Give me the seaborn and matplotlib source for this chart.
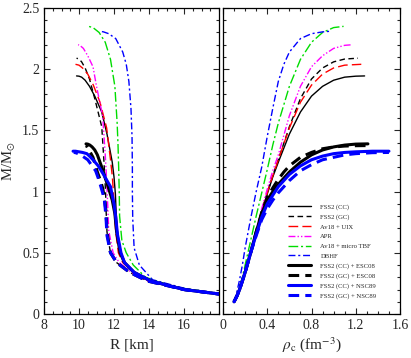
import numpy as np
import pandas as pd
import matplotlib
matplotlib.use("Agg")
import matplotlib.pyplot as plt
from matplotlib.ticker import MultipleLocator
import seaborn as sns

sns.set_theme(style="ticks")
plt.rcParams['font.family'] = ['Liberation Serif', 'DejaVu Serif']
plt.rcParams['mathtext.fontset'] = 'stix'

labels = ["FSS2 (CC)", "FSS2 (GC)", "Av18 + UIX", "APR", "Av18 + micro TBF", "DBHF",
          "FSS2 (CC) + ESC08", "FSS2 (GC) + ESC08", "FSS2 (CC) + NSC89", "FSS2 (GC) + NSC89"]

# central density (fm^-3), mass (M_sun), radius (km) for each EOS
rho_fss2_cc = [0.10, 0.125, 0.15, 0.175, 0.20, 0.225, 0.25, 0.30, 0.35, 0.40, 0.45, 0.50, 0.60, 0.70, 0.80, 0.90, 1.00, 1.10, 1.20, 1.28]
m_fss2_cc   = [0.10, 0.145, 0.20, 0.27, 0.34, 0.42, 0.50, 0.67, 0.84, 0.98, 1.12, 1.24, 1.47, 1.65, 1.78, 1.86, 1.91, 1.935, 1.943, 1.945]
r_fss2_cc   = [26.0, 19.0, 16.0, 14.1, 13.15, 12.6, 12.35, 12.2, 12.12, 12.08, 12.0, 11.9, 11.6, 11.3, 10.9, 10.6, 10.35, 10.15, 10.0, 9.86]

rho_fss2_gc = [0.10, 0.125, 0.15, 0.175, 0.20, 0.225, 0.25, 0.30, 0.35, 0.40, 0.45, 0.50, 0.60, 0.70, 0.80, 0.90, 1.00, 1.10, 1.22]
m_fss2_gc   = [0.10, 0.145, 0.20, 0.27, 0.34, 0.42, 0.50, 0.67, 0.84, 0.99, 1.13, 1.26, 1.53, 1.76, 1.92, 2.01, 2.06, 2.083, 2.09]
r_fss2_gc   = [26.0, 19.0, 16.0, 13.9, 12.9, 12.15, 11.8, 11.6, 11.55, 11.52, 11.47, 11.42, 11.3, 10.9, 10.6, 10.35, 10.15, 10.0, 9.86]

rho_uix = [0.10, 0.125, 0.15, 0.175, 0.20, 0.225, 0.25, 0.30, 0.35, 0.40, 0.45, 0.50, 0.60, 0.70, 0.80, 0.90, 1.00, 1.10, 1.25]
m_uix   = [0.10, 0.145, 0.20, 0.27, 0.34, 0.42, 0.50, 0.67, 0.84, 0.99, 1.13, 1.26, 1.52, 1.73, 1.87, 1.96, 2.01, 2.033, 2.04]
r_uix   = [26.0, 19.0, 16.0, 14.0, 13.1, 12.5, 12.25, 12.1, 12.02, 11.97, 11.9, 11.8, 11.58, 11.2, 10.82, 10.5, 10.2, 10.0, 9.8]

rho_apr = [0.10, 0.125, 0.15, 0.175, 0.20, 0.225, 0.25, 0.30, 0.35, 0.40, 0.45, 0.50, 0.60, 0.70, 0.80, 0.90, 1.00, 1.10, 1.17]
m_apr   = [0.10, 0.145, 0.20, 0.27, 0.34, 0.42, 0.50, 0.68, 0.86, 1.02, 1.17, 1.30, 1.62, 1.86, 2.02, 2.11, 2.17, 2.195, 2.20]
r_apr   = [26.0, 19.0, 16.0, 13.95, 13.0, 12.3, 11.95, 11.7, 11.65, 11.6, 11.55, 11.5, 11.35, 11.0, 10.8, 10.5, 10.25, 10.05, 9.95]

rho_tbf = [0.10, 0.125, 0.15, 0.175, 0.20, 0.225, 0.25, 0.30, 0.35, 0.40, 0.45, 0.50, 0.60, 0.70, 0.80, 0.90, 1.00, 1.09]
m_tbf   = [0.10, 0.15, 0.22, 0.30, 0.40, 0.50, 0.60, 0.80, 0.99, 1.18, 1.38, 1.56, 1.86, 2.08, 2.22, 2.30, 2.34, 2.35]
r_tbf   = [26.0, 18.8, 15.5, 13.8, 13.1, 12.7, 12.45, 12.32, 12.3, 12.27, 12.23, 12.18, 12.05, 11.8, 11.5, 11.15, 10.8, 10.55]

rho_dbhf = [0.10, 0.125, 0.15, 0.175, 0.20, 0.25, 0.30, 0.35, 0.40, 0.45, 0.50, 0.55, 0.60, 0.70, 0.80, 0.90, 0.97]
m_dbhf   = [0.10, 0.18, 0.28, 0.40, 0.54, 0.78, 1.00, 1.20, 1.45, 1.68, 1.90, 2.04, 2.14, 2.25, 2.29, 2.305, 2.31]
r_dbhf   = [26.0, 16.8, 14.2, 13.45, 13.15, 13.07, 13.05, 13.05, 13.03, 12.97, 12.85, 12.7, 12.5, 12.1, 11.7, 11.4, 11.2]

rho_cc_esc = [0.10, 0.125, 0.15, 0.175, 0.20, 0.225, 0.25, 0.30, 0.35, 0.40, 0.45, 0.50, 0.55, 0.60, 0.70, 0.80, 0.90, 1.00, 1.10, 1.20, 1.31]
m_cc_esc   = [0.10, 0.145, 0.20, 0.27, 0.34, 0.42, 0.50, 0.67, 0.82, 0.93, 1.00, 1.06, 1.11, 1.16, 1.24, 1.30, 1.34, 1.365, 1.38, 1.388, 1.39]
r_cc_esc   = [26.0, 19.0, 16.0, 14.1, 13.15, 12.6, 12.35, 12.15, 12.05, 11.9, 11.75, 11.62, 11.5, 11.4, 11.2, 11.05, 10.9, 10.75, 10.62, 10.5, 10.4]

rho_gc_esc = [0.10, 0.125, 0.15, 0.175, 0.20, 0.225, 0.25, 0.30, 0.35, 0.40, 0.45, 0.50, 0.55, 0.60, 0.70, 0.80, 0.90, 1.00, 1.10, 1.20, 1.30]
m_gc_esc   = [0.10, 0.145, 0.20, 0.27, 0.34, 0.42, 0.50, 0.67, 0.83, 0.95, 1.03, 1.10, 1.16, 1.21, 1.28, 1.32, 1.35, 1.365, 1.372, 1.375, 1.376]
r_gc_esc   = [26.0, 19.0, 16.0, 13.9, 12.9, 12.15, 11.8, 11.6, 11.55, 11.45, 11.35, 11.2, 11.05, 10.95, 10.8, 10.65, 10.55, 10.48, 10.42, 10.4, 10.38]

rho_cc_nsc = [0.10, 0.125, 0.15, 0.175, 0.20, 0.225, 0.25, 0.30, 0.35, 0.40, 0.45, 0.50, 0.60, 0.70, 0.80, 0.90, 1.00, 1.10, 1.20, 1.35, 1.50]
m_cc_nsc   = [0.10, 0.145, 0.20, 0.27, 0.34, 0.42, 0.50, 0.65, 0.79, 0.90, 0.97, 1.04, 1.14, 1.21, 1.26, 1.29, 1.31, 1.32, 1.325, 1.33, 1.33]
r_cc_nsc   = [26.0, 19.0, 16.0, 14.1, 13.15, 12.6, 12.4, 12.2, 12.1, 12.0, 11.9, 11.8, 11.4, 11.1, 10.8, 10.6, 10.45, 10.2, 10.0, 9.8, 9.66]

rho_gc_nsc = [0.10, 0.125, 0.15, 0.175, 0.20, 0.225, 0.25, 0.30, 0.35, 0.40, 0.45, 0.50, 0.60, 0.70, 0.80, 0.90, 1.00, 1.10, 1.20, 1.35, 1.50]
m_gc_nsc   = [0.10, 0.145, 0.20, 0.27, 0.34, 0.42, 0.50, 0.64, 0.77, 0.86, 0.93, 0.99, 1.09, 1.17, 1.22, 1.26, 1.28, 1.30, 1.31, 1.318, 1.32]
r_gc_nsc   = [26.0, 19.0, 16.0, 13.9, 12.9, 12.15, 11.8, 11.6, 11.55, 11.5, 11.45, 11.35, 11.15, 10.95, 10.7, 10.5, 10.3, 10.1, 9.95, 9.8, 9.7]

series = [
    (rho_fss2_cc, m_fss2_cc, r_fss2_cc),
    (rho_fss2_gc, m_fss2_gc, r_fss2_gc),
    (rho_uix, m_uix, r_uix),
    (rho_apr, m_apr, r_apr),
    (rho_tbf, m_tbf, r_tbf),
    (rho_dbhf, m_dbhf, r_dbhf),
    (rho_cc_esc, m_cc_esc, r_cc_esc),
    (rho_gc_esc, m_gc_esc, r_gc_esc),
    (rho_cc_nsc, m_cc_nsc, r_cc_nsc),
    (rho_gc_nsc, m_gc_nsc, r_gc_nsc),
]

styles = [
    dict(color="black", lw=1.0, ls="-"),
    dict(color="black", lw=1.0, ls=(0, (4, 2.5))),
    dict(color="red", lw=1.0, ls=(0, (7, 3))),
    dict(color="magenta", lw=1.0, ls=(0, (5, 1.5, 1, 1.5, 1, 1.5))),
    dict(color="#00dd00", lw=1.0, ls=(0, (7, 2, 1.5, 2))),
    dict(color="blue", lw=1.0, ls=(0, (5, 2, 1.5, 2))),
    dict(color="black", lw=2.2, ls="-"),
    dict(color="black", lw=2.2, ls=(0, (3.5, 2))),
    dict(color="blue", lw=2.2, ls="-"),
    dict(color="blue", lw=2.2, ls=(0, (3.5, 2))),
]

fig = plt.figure(figsize=(4.11, 3.58), dpi=100)
ax1 = fig.add_axes([44 / 411, 1 - 314 / 358, (219 - 44) / 411, (314 - 8) / 358])
ax2 = fig.add_axes([223 / 411, 1 - 314 / 358, (400 - 223) / 411, (314 - 8) / 358])

for lab, (rho, m, r), st in zip(labels, series, styles):
    df = pd.DataFrame({"rho": rho, "M": m, "R": r})
    sns.lineplot(data=df, x="R", y="M", ax=ax1, sort=False, estimator=None,
                 color=st["color"], linewidth=st["lw"], linestyle=st["ls"], legend=False)
    sns.lineplot(data=df, x="rho", y="M", ax=ax2, sort=False, estimator=None,
                 color=st["color"], linewidth=st["lw"], linestyle=st["ls"], label=lab)

ax1.set_xlim(8, 18)
ax1.set_ylim(0, 2.5)
ax2.set_xlim(0, 1.6)
ax2.set_ylim(0, 2.5)

for ax in (ax1, ax2):
    ax.yaxis.set_major_locator(MultipleLocator(0.5))
    ax.yaxis.set_minor_locator(MultipleLocator(0.1))
    ax.tick_params(which="both", direction="in", top=True, right=True, labelsize=10, width=0.8)
    ax.tick_params(which="major", length=4.5)
    ax.tick_params(which="minor", length=2.5)
    for sp in ax.spines.values():
        sp.set_linewidth(0.9)
        sp.set_color("black")
    ax.grid(False)

ax1.set_xticks([8, 10, 12, 14, 16])
ax1.xaxis.set_minor_locator(MultipleLocator(0.5))
ax1.set_yticks([0, 0.5, 1, 1.5, 2, 2.5])
ax1.set_yticklabels(["0", "0.5", "1", "1.5", "2", "2.5"])
ax2.set_xticks([0, 0.4, 0.8, 1.2, 1.6])
ax2.set_xticklabels(["0", "0.4", "0.8", "1.2", "1.6"])
ax2.xaxis.set_minor_locator(MultipleLocator(0.1))
ax2.tick_params(labelleft=False)

ax1.set_xlabel("R [km]", fontsize=11, labelpad=5)
ax1.set_ylabel(r"M/M$_{\odot}$", fontsize=10.5)
ax1.yaxis.set_label_coords(-0.15, 0.5)
ax2.set_xlabel(r"$\rho_{\rm c}$ (fm$^{-3}$)", fontsize=11, labelpad=2)
ax2.set_ylabel("")

leg = ax2.legend(loc="lower right", bbox_to_anchor=(0.875, 0.045), frameon=False, fontsize=4.8,
                 handlelength=3.4, handletextpad=1.4, labelspacing=0.6, borderaxespad=0.0,
                 borderpad=0.2)

fig.savefig("out.png", dpi=100)
